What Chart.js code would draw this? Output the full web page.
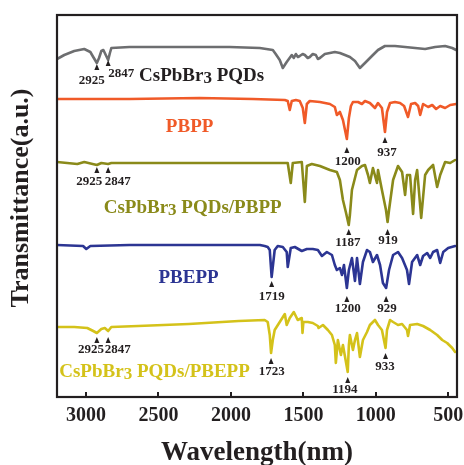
<!DOCTYPE html>
<html><head><meta charset="utf-8">
<script src="https://cdn.jsdelivr.net/npm/chart.js@4.4.1/dist/chart.umd.min.js"></script>
<style>html,body{margin:0;padding:0;background:#fff;}</style>
</head><body>
<canvas id="c" width="464" height="465"></canvas>
<script>
// ---- data (wavenumber, transmittance in arbitrary stacked units) ----
const xTicks = [3000, 2500, 2000, 1500, 1000, 500];

const pqdsWn = [3200,3150,3081,3012,2970,2950,2925,2910,2894,2880,2847,2835,2825,2700,2355,2009,1801,1711,1691,1663,1642,1615,1580,1566,1552,1538,1525,1505,1490,1470,1456,1435,1414,1400,1386,1352,1317,1283,1248,1213,1179,1144,1110,1075,1027,985,937,868,798,729,660,591,522,473,446];
const pqdsT  = [338,342,346,348,345,340,334,339,346,347,337,344,349,350,350,350,349,347,343,337,329,335,342,339,343,340,341,343,342,339,340,343,342,338,339,343,344,345,344,342,340,336,329,334,341,347,351,351,350,349,348,350,351,349,347];

const pbppWn = [3200,2700,2216,1850,1628,1608,1594,1580,1552,1525,1504,1490,1476,1456,1386,1317,1283,1269,1248,1227,1200,1186,1172,1158,1123,1096,1075,1041,1006,985,958,937,923,902,868,833,805,778,757,729,708,694,674,639,611,584,556,522,487,446];
const pbppT  = [298,298,299,298,297,296,287,296,297,296,289,274,293,296,295,293,290,282,285,277,258,279,291,295,295,293,296,294,289,294,289,265,285,294,295,294,291,280,293,294,291,282,293,290,292,288,291,289,292,293];

const mixAWn = [3200,3060,3012,2925,2894,2847,2825,2500,2000,1628,1608,1587,1573,1511,1490,1476,1442,1386,1317,1269,1248,1227,1207,1187,1179,1165,1130,1096,1075,1054,1041,1020,992,985,958,930,919,909,881,847,819,798,785,764,743,729,715,687,660,639,605,577,556,522,487,453];
const mixAT  = [235,233,235,232,234,233,234,234,234,234,234,214,234,235,195,231,233,231,227,225,217,197,185,172,182,207,227,231,232,222,214,229,214,227,207,187,175,187,217,231,225,202,222,222,183,217,227,179,222,227,232,210,222,235,234,237];

const pbeppWn = [3200,3020,2998,2970,2700,2200,1800,1767,1746,1732,1719,1698,1677,1642,1615,1608,1587,1559,1511,1476,1435,1400,1372,1338,1303,1283,1269,1248,1234,1220,1200,1186,1165,1144,1130,1110,1089,1061,1041,1020,992,971,951,929,909,881,847,819,785,771,750,715,694,674,646,625,605,577,556,535,501,453];
const pbeppT  = [152,151,148,151,152,152,152,151,150,147,120,147,151,150,145,130,149,150,146,148,148,147,141,145,142,132,127,129,122,132,109,127,139,116,139,113,135,147,145,135,142,132,114,109,127,142,145,139,127,113,135,142,132,141,144,139,145,147,134,145,149,151];

const mixBWn = [3200,3081,2991,2950,2925,2894,2870,2847,2825,2640,2290,1946,1767,1746,1732,1723,1711,1698,1663,1628,1615,1594,1566,1539,1511,1506,1500,1469,1435,1400,1395,1365,1331,1303,1283,1276,1262,1241,1227,1194,1186,1179,1158,1144,1130,1110,1089,1061,1041,1006,985,958,933,923,902,881,847,819,785,778,764,715,674,625,577,542,508,473,453];
const mixBT  = [70,70,69,66,64,68,69,66,70,71,73,76,77,75,62,44,57,67,75,83,72,79,85,77,79,64,75,75,74,71,69,72,67,62,52,34,57,42,52,25,52,62,47,57,64,40,57,65,72,77,72,67,49,67,77,75,72,73,67,61,72,73,71,67,62,57,54,49,45];

const seriesNames = ['CsPbBr3 PQDs','PBPP','CsPbBr3 PQDs/PBPP','PBEPP','CsPbBr3 PQDs/PBEPP'];

// peak annotations: wavenumber of the peak, arrow tip level, label anchor
const peakMarks = [
  {wn:2925, tip:333, tx:2960, ty:316},
  {wn:2847, tip:337, tx:2756, ty:323},
  {wn:1200, tip:250, tx:1193, ty:235},
  {wn:937,  tip:260, tx:923,  ty:244},
  {wn:2925, tip:230, tx:2977, ty:215},
  {wn:2847, tip:230, tx:2780, ty:215},
  {wn:1187, tip:168, tx:1193, ty:154},
  {wn:919,  tip:168, tx:916,  ty:156},
  {wn:1719, tip:116, tx:1718, ty:100},
  {wn:1200, tip:101, tx:1193, ty:88},
  {wn:929,  tip:101, tx:923,  ty:88},
  {wn:2925, tip:60,  tx:2965, ty:47},
  {wn:2847, tip:60,  tx:2781, ty:47},
  {wn:1723, tip:39,  tx:1718, ty:25},
  {wn:1194, tip:20,  tx:1213, ty:7},
  {wn:933,  tip:44,  tx:937,  ty:30}
];
const seriesLabelPos = [
  {x:2202, y:321}, {x:2285, y:270}, {x:2264, y:189}, {x:2292, y:119}, {x:2527, y:25}
];
const colors = ['#6d6e70','#f05a28','#8a8a1a','#2c3593','#d4c21a'];
const labelColors = ['#231f20','#f05a28','#8a8a1a','#2c3593','#d4c21a'];

const SERIF = '"Liberation Serif","Times New Roman",serif';
const pts = (xs, ys) => xs.map((x, i) => ({x: x, y: ys[i]}));

function drawSubText(ctx, text, cx, cy, size) {
  const parts = [];
  const idx = text.indexOf('Br3');
  if (idx >= 0) {
    parts.push({t: text.slice(0, idx + 2), sub: false});
    parts.push({t: '3', sub: true});
    parts.push({t: text.slice(idx + 3), sub: false});
  } else parts.push({t: text, sub: false});
  const fMain = 'bold ' + size + 'px ' + SERIF;
  const fSub = 'bold ' + Math.round(size * 0.9) + 'px ' + SERIF;
  let w = 0;
  parts.forEach(p => { ctx.font = p.sub ? fSub : fMain; p.w = ctx.measureText(p.t).width; w += p.w; });
  let x = cx - w / 2;
  ctx.textAlign = 'left';
  ctx.textBaseline = 'middle';
  parts.forEach(p => {
    ctx.font = p.sub ? fSub : fMain;
    ctx.fillText(p.t, x, p.sub ? cy + 3 : cy);
    x += p.w;
  });
}

const decor = {
  id: 'decor',
  afterDraw(chart) {
    const {ctx, chartArea: a, scales: {x, y}} = chart;
    ctx.save();
    ctx.strokeStyle = '#231f20';
    ctx.lineWidth = 2.2;
    ctx.strokeRect(a.left, a.top, a.right - a.left, a.bottom - a.top);
    ctx.lineWidth = 2;
    xTicks.forEach(v => {
      const px = Math.round(x.getPixelForValue(v));
      ctx.beginPath(); ctx.moveTo(px, a.bottom); ctx.lineTo(px, a.bottom - 5); ctx.stroke();
    });
    ctx.fillStyle = '#231f20';
    ctx.save();
    ctx.translate(21, 198);
    ctx.rotate(-Math.PI / 2);
    ctx.font = 'bold 26px ' + SERIF;
    ctx.textAlign = 'center'; ctx.textBaseline = 'middle';
    ctx.fillText('Transmittance(a.u.)', 0, 0);
    ctx.restore();
    peakMarks.forEach(m => {
      const px = x.getPixelForValue(m.wn), py = y.getPixelForValue(m.tip);
      ctx.beginPath();
      ctx.moveTo(px, py); ctx.lineTo(px - 2.5, py + 6); ctx.lineTo(px + 2.5, py + 6); ctx.closePath();
      ctx.fill();
      ctx.font = 'bold 13px ' + SERIF;
      ctx.textAlign = 'center'; ctx.textBaseline = 'middle';
      ctx.fillText(String(m.wn), x.getPixelForValue(m.tx), y.getPixelForValue(m.ty));
    });
    seriesNames.forEach((n, i) => {
      ctx.fillStyle = labelColors[i];
      drawSubText(ctx, n, x.getPixelForValue(seriesLabelPos[i].x), y.getPixelForValue(seriesLabelPos[i].y), 19);
    });
    ctx.restore();
  }
};

const series = [[pqdsWn, pqdsT], [pbppWn, pbppT], [mixAWn, mixAT], [pbeppWn, pbeppT], [mixBWn, mixBT]];

new Chart(document.getElementById('c'), {
  type: 'line',
  data: {
    datasets: series.map((s, i) => ({
      label: seriesNames[i],
      data: pts(s[0], s[1]),
      borderColor: colors[i],
      borderWidth: 2.6,
      borderJoinStyle: 'round',
      borderCapStyle: 'round',
      pointRadius: 0,
      tension: 0,
      fill: false
    }))
  },
  options: {
    responsive: false,
    animation: false,
    devicePixelRatio: 1,
    layout: {padding: {top: 15, right: 7, left: 0, bottom: 0}},
    plugins: {legend: {display: false}, tooltip: {enabled: false}},
    scales: {
      x: {
        type: 'linear', reverse: true, min: 440, max: 3200,
        grid: {display: false, drawTicks: false},
        border: {display: false},
        afterBuildTicks: s => { s.ticks = xTicks.map(v => ({value: v})); },
        afterFit: s => { s.height = 68; s.paddingLeft = 0; s.paddingRight = 0; },
        ticks: {font: {family: SERIF, weight: 'bold', size: 20}, color: '#231f20', padding: 7,
                maxRotation: 0, autoSkip: false, callback: v => String(v)},
        title: {display: true, text: 'Wavelength(nm)', color: '#231f20',
                font: {family: SERIF, weight: 'bold', size: 27, lineHeight: 1}, padding: {top: 0, bottom: -2}}
      },
      y: {
        min: 0, max: 382,
        grid: {display: false, drawTicks: false},
        border: {display: false},
        ticks: {display: false},
        afterFit: s => { s.width = 57; }
      }
    }
  },
  plugins: [decor]
});
</script>
</body></html>
